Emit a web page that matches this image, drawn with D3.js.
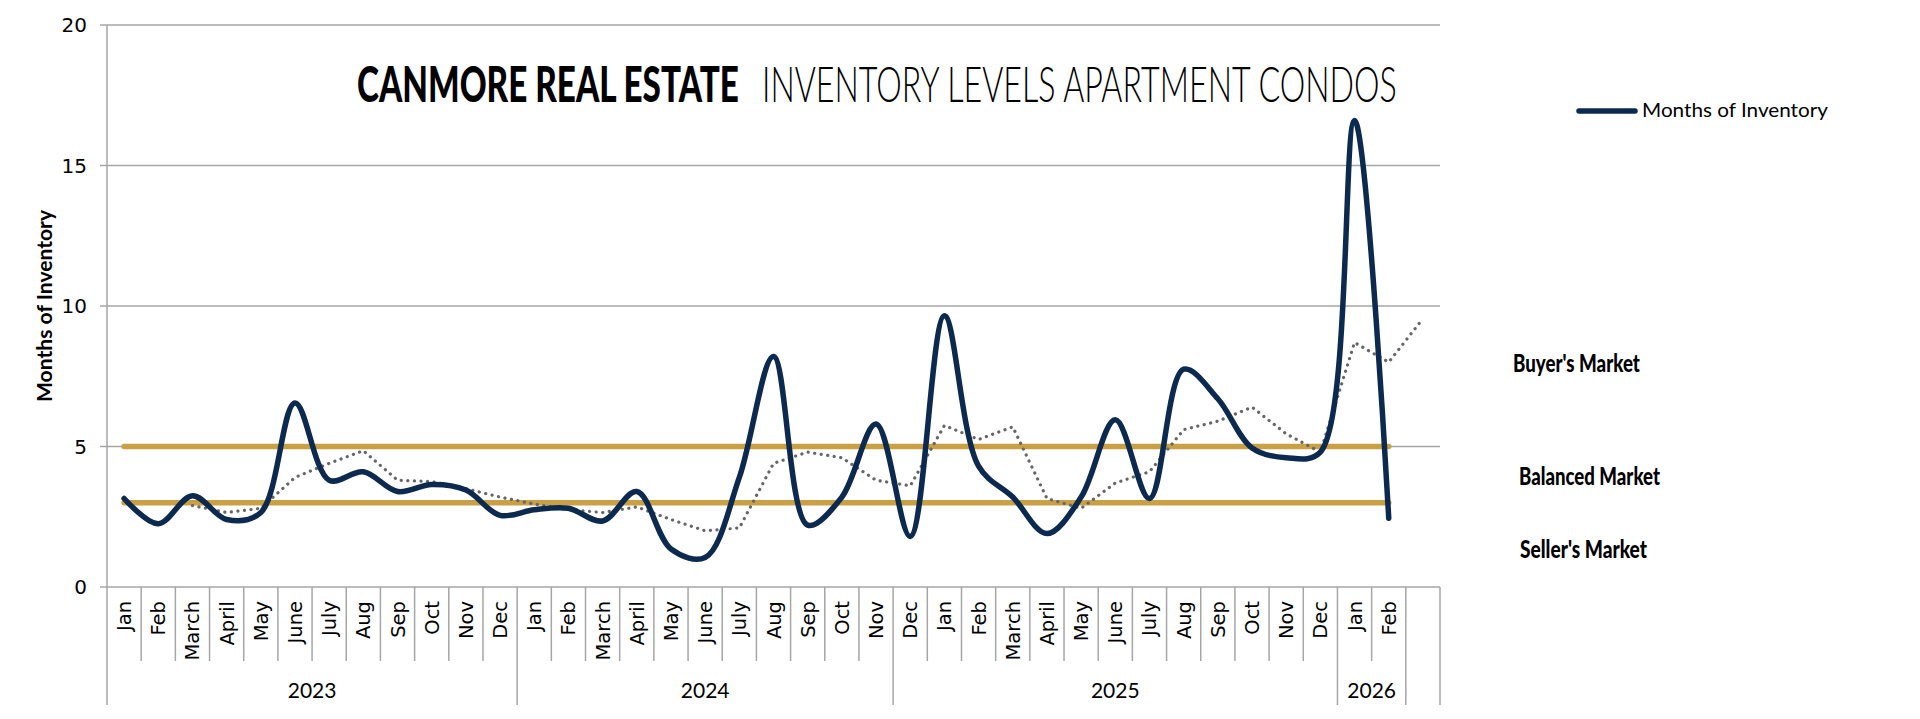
<!DOCTYPE html>
<html>
<head>
<meta charset="utf-8">
<script src="https://cdn.jsdelivr.net/npm/d3@7"></script>
<style>
  html, body { margin: 0; padding: 0; background: #fff; }
  svg { display: block; }
</style>
</head>
<body>
<svg id="chart"></svg>
<script>
// month categories (39th slot is the empty one Excel leaves for the trendline)
const months = [
  "Jan","Feb","March","April","May","June","July","Aug","Sep","Oct","Nov","Dec",
  "Jan","Feb","March","April","May","June","July","Aug","Sep","Oct","Nov","Dec",
  "Jan","Feb","March","April","May","June","July","Aug","Sep","Oct","Nov","Dec",
  "Jan","Feb",""
];
// year groups as the source sheet has them (2024 ends at Nov)
const yearLabels = ["2023", "2024", "2025", "2026", ""];
const yearSpans = [12, 11, 13, 2, 1];

// months of inventory
const inventory = [
  3.15, 2.25, 3.25, 2.4, 2.65, 6.55, 3.8, 4.1, 3.4, 3.65, 3.45, 2.55,
  2.75, 2.8, 2.35, 3.4, 1.35, 1.05, 3.9, 8.2, 2.2, 3.2, 5.8, 1.8,
  9.65, 4.3, 3.2, 1.9, 3.2, 5.95, 3.15, 7.75, 6.7, 4.95, 4.6, 4.8,
  16.6, 2.45
];

// dotted trend line (starts at the 3rd month, runs one slot past the data)
const trend = [
  null, null, 2.9, 2.65, 2.8, 3.9, 4.4, 4.85, 3.8, 3.75, 3.5, 3.2,
  2.95, 2.75, 2.65, 2.85, 2.4, 2.0, 2.1, 4.4, 4.8, 4.6, 3.8, 3.6,
  5.75, 5.25, 5.7, 3.15, 2.8, 3.7, 4.1, 5.6, 5.9, 6.4, 5.45, 4.8,
  8.7, 8.0, 9.55
];

// market threshold lines
const thresholds = [5, 3];
const marketLabels = ["Buyer's Market", "Balanced Market", "Seller's Market"];
const marketLabelValues = [7.95, 3.9, 1.3];

const yTicks = [0, 5, 10, 15, 20];

const width = 1920, height = 719;
const margin = { top: 25, left: 107 };
const plotRight = 1440;
const y0 = 587;
const monthRowBottom = 661;
const axisBottom = 705;

const svg = d3.select("#chart")
  .attr("width", width)
  .attr("height", height)
  .attr("viewBox", [0, 0, width, height]);

const x = d3.scaleBand()
  .domain(d3.range(months.length))
  .range([margin.left, plotRight])
  .paddingInner(0).paddingOuter(0);

const y = d3.scaleLinear()
  .domain([0, 20])
  .range([y0, margin.top]);

const cx = i => x(i) + x.bandwidth() / 2;
const xEdge = i => i < months.length ? x(i) : plotRight;
const gridColor = "#a6a6a6";

// squeeze a text horizontally to a given width (condensed look)
function fitWidth(sel, left, baseline, w) {
  const natural = sel.node().getComputedTextLength();
  sel.attr("transform", `translate(${left},${baseline}) scale(${w / natural},1)`);
}

// gridlines + y tick marks
svg.append("g")
  .selectAll("line")
  .data(yTicks)
  .join("line")
  .attr("x1", margin.left - 7)
  .attr("x2", plotRight)
  .attr("y1", d => y(d))
  .attr("y2", d => y(d))
  .attr("stroke", gridColor)
  .attr("stroke-width", 1.5);

// y axis line
svg.append("line")
  .attr("x1", margin.left).attr("x2", margin.left)
  .attr("y1", y(20)).attr("y2", axisBottom)
  .attr("stroke", gridColor)
  .attr("stroke-width", 1.5);

// y tick labels
svg.append("g")
  .attr("font-family", "'DejaVu Sans', Verdana, sans-serif")
  .attr("font-size", 20)
  .attr("text-anchor", "end")
  .selectAll("text")
  .data(yTicks)
  .join("text")
  .attr("x", 87)
  .attr("y", d => y(d))
  .attr("dy", "0.36em")
  .text(d => d);

// y axis title
svg.append("text")
  .attr("transform", `translate(52,306) rotate(-90)`)
  .attr("text-anchor", "middle")
  .attr("font-family", "Lato, 'Open Sans', sans-serif")
  .attr("font-weight", 700)
  .attr("font-size", 21)
  .attr("textLength", 192)
  .attr("lengthAdjust", "spacingAndGlyphs")
  .text("Months of Inventory");

// category separators: month boundaries short, year boundaries long
const yearStarts = [0];
yearSpans.forEach((s, i) => yearStarts.push(yearStarts[i] + s));

svg.append("g")
  .selectAll("line")
  .data(d3.range(1, months.length + 1))
  .join("line")
  .attr("x1", xEdge)
  .attr("x2", xEdge)
  .attr("y1", y0)
  .attr("y2", i => yearStarts.includes(i) ? axisBottom : monthRowBottom)
  .attr("stroke", gridColor)
  .attr("stroke-width", 1.5);

// month labels
svg.append("g")
  .attr("font-family", "'DejaVu Sans', Verdana, sans-serif")
  .attr("font-size", 19.5)
  .attr("text-anchor", "end")
  .selectAll("text")
  .data(months)
  .join("text")
  .attr("transform", (d, i) => `translate(${cx(i) + 7},601) rotate(-90)`)
  .text(d => d);

// year labels
svg.append("g")
  .attr("font-family", "Lato, 'Open Sans', sans-serif")
  .attr("font-size", 21)
  .attr("text-anchor", "middle")
  .selectAll("text")
  .data(yearLabels)
  .join("text")
  .attr("x", (d, i) => (xEdge(yearStarts[i]) + xEdge(yearStarts[i + 1])) / 2)
  .attr("y", 698)
  .text(d => d);

// threshold lines (gold), from first to last data month
svg.append("g")
  .selectAll("line")
  .data(thresholds)
  .join("line")
  .attr("x1", cx(0))
  .attr("x2", cx(inventory.length - 1))
  .attr("y1", d => y(d))
  .attr("y2", d => y(d))
  .attr("stroke", "#c9a043")
  .attr("stroke-width", 5.5)
  .attr("stroke-linecap", "round");

// dotted trend
const trendLine = d3.line()
  .defined(d => d != null)
  .x((d, i) => cx(i))
  .y(d => y(d));

svg.append("path")
  .datum(trend)
  .attr("d", trendLine)
  .attr("fill", "none")
  .attr("stroke", "#666")
  .attr("stroke-width", 3.2)
  .attr("stroke-linecap", "round")
  .attr("stroke-dasharray", "0.1 6.5");

// main series, smoothed
const line = d3.line()
  .x((d, i) => cx(i))
  .y(d => y(d))
  .curve(d3.curveCatmullRom.alpha(0.5));

svg.append("path")
  .datum(inventory)
  .attr("d", line)
  .attr("fill", "none")
  .attr("stroke", "#0c2a4f")
  .attr("stroke-width", 5.5)
  .attr("stroke-linecap", "round")
  .attr("stroke-linejoin", "round");

// title
const titleBold = svg.append("text")
  .attr("font-family", "Lato, 'Open Sans', sans-serif")
  .attr("font-weight", 900)
  .attr("font-size", 50)
  .text("CANMORE REAL ESTATE");
fitWidth(titleBold, 357, 102, 382);

const titleLight = svg.append("text")
  .attr("font-family", "Lato, 'Open Sans', sans-serif")
  .attr("font-weight", 300)
  .attr("font-size", 50)
  .text("INVENTORY LEVELS APARTMENT CONDOS");
fitWidth(titleLight, 762, 102, 635);

// legend
svg.append("line")
  .attr("x1", 1579).attr("x2", 1635)
  .attr("y1", 111).attr("y2", 111)
  .attr("stroke", "#0c2a4f")
  .attr("stroke-width", 5.5)
  .attr("stroke-linecap", "round");

const legendText = svg.append("text")
  .attr("font-family", "Lato, 'Open Sans', sans-serif")
  .attr("font-size", 20)
  .text("Months of Inventory");
fitWidth(legendText, 1642, 117, 186);

// market labels on the right
const labelX = [1513, 1519, 1520];
const labelW = [127, 141, 127];
marketLabels.forEach((d, i) => {
  const t = svg.append("text")
    .attr("font-family", "Lato, 'Open Sans', sans-serif")
    .attr("font-weight", 900)
    .attr("font-size", 24)
    .text(d);
  fitWidth(t, labelX[i], y(marketLabelValues[i]) + 8, labelW[i]);
});
</script>
</body>
</html>
